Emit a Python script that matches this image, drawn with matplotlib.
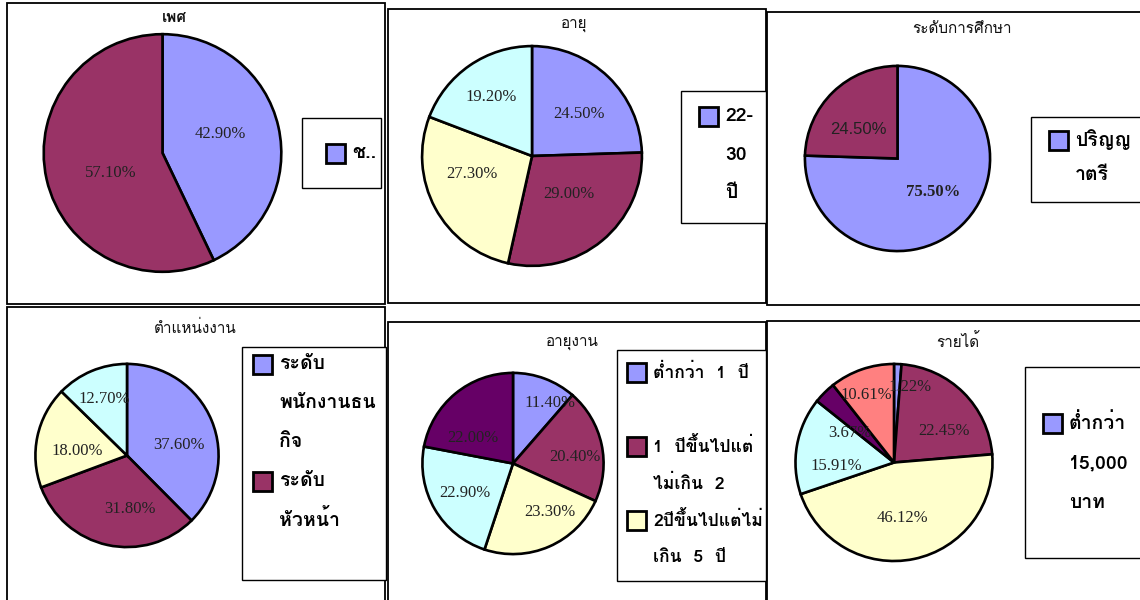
import matplotlib
matplotlib.use("Agg")
import numpy as np
import matplotlib.pyplot as plt
from matplotlib import font_manager
from matplotlib.patches import Rectangle

# ---------------- data ----------------
titles = ["เพศ", "อายุ", "ระดับการศึกษา", "ตำแหน่งงาน", "อายุงาน", "รายได้"]

sex_values = [42.90, 57.10]
age_values = [24.50, 29.00, 27.30, 19.20]
edu_values = [75.50, 24.50]
position_values = [37.60, 31.80, 18.00, 12.70]
tenure_values = [11.40, 20.40, 23.30, 22.90, 22.00]
income_values = [1.22, 22.45, 46.12, 15.91, 3.67, 10.61]

sex_legend = ["ช.."]
age_legend = ["22-\n30\nปี"]
edu_legend = ["ปริญญ\nาตรี"]
position_legend = ["ระดับ\nพนักงานธน\nกิจ", "ระดับ\nหัวหน้า"]
tenure_legend = ["ต่ำกว่า  1  ปี\n ", "1  ปีขึ้นไปแต่\nไม่เกิน  2", "2ปีขึ้นไปแต่ไม่\nเกิน  5  ปี"]
income_legend = ["ต่ำกว่า\n15,000\nบาท"]

slice_colors = ["#9999FF", "#993366", "#FFFFCC", "#CCFFFF", "#660066", "#FF8080"]

# ---------------- find a font with Thai glyphs ----------------
thai_fonts = []
try:
    from fontTools.ttLib import TTFont
    seen = set()
    for f in font_manager.fontManager.ttflist:
        if f.name in seen:
            continue
        try:
            tt = TTFont(f.fname, fontNumber=0, lazy=True)
            cmap = tt.getBestCmap()
            if cmap and 0x0E01 in cmap and 0x0E35 in cmap:
                thai_fonts.append(f.name)
                seen.add(f.name)
        except Exception:
            pass
except Exception:
    pass

preferred = [n for n in ["Loma", "Tahoma", "Noto Sans Thai"] if n in thai_fonts]
thai_family = (preferred[:1] or thai_fonts[:1]) + ["Liberation Sans", "DejaVu Sans"]

# ---------------- layout (pixels, origin top-left) ----------------
W, H = 1140, 600
panels = [
    dict(values=sex_values, legend=sex_legend, tw="bold",
         border=(7, 3, 385, 304), square=(42, 33, 283, 273), title=(174, 18),
         lbox=(302, 118, 381, 188), lx=335, ly=153, lsp=38, lfs=14,
         dist=[0.51, 0.47], dang=[5, 8],
         lfam=["Liberation Serif"] * 2, lwt=["normal"] * 2),
    dict(values=age_values, legend=age_legend, tw="normal",
         border=(388, 9, 766, 303), square=(421, 45, 643, 267), title=(574, 25),
         lbox=(681, 91, 766, 223), lx=708, ly=116, lsp=38.5, lfs=14,
         dist=[0.57, 0.48, 0.57, 0.65], dang=[-4, 4, -12, 0],
         lfam=["Liberation Serif"] * 4, lwt=["normal"] * 4),
    dict(values=edu_values, legend=edu_legend, tw="normal",
         border=(767, 12, 1141, 305), square=(803, 65, 992, 252), title=(962, 29),
         lbox=(1031, 117, 1141, 202), lx=1058, ly=140, lsp=35, lfs=14,
         dist=[0.53, 0.53], dang=[3, 9],
         lfam=["Liberation Serif", "Liberation Sans"], lwt=["bold", "normal"]),
    dict(values=position_values, legend=position_legend, tw="normal",
         border=(7, 307, 385, 601), square=(34, 363, 220, 548), title=(195, 328),
         lbox=(242, 347, 386, 580), lx=262, ly=364, lsp=39, lfs=14,
         dist=[0.58, 0.59, 0.54, 0.67], dang=[-11, 15, 7, -1],
         lfam=["Liberation Serif"] * 4, lwt=["normal"] * 4),
    dict(values=tenure_values, legend=tenure_legend, tw="normal",
         border=(388, 322, 766, 601), square=(421, 372, 605, 555), title=(572, 343),
         lbox=(617, 350, 766, 581), lx=636, ly=372, lsp=37, lfs=12.6,
         dist=[0.78, 0.69, 0.67, 0.62, 0.53], dang=[-11, -6, 14, 1, 18],
         lfam=["Liberation Serif"] * 5, lwt=["normal"] * 5),
    dict(values=income_values, legend=income_legend, tw="normal",
         border=(767, 321, 1141, 601), square=(794, 363, 994, 562), title=(958, 342),
         lbox=(1025, 367, 1141, 558), lx=1052, ly=423, lsp=40, lfs=14,
         dist=[0.78, 0.6, 0.57, 0.59, 0.54, 0.74], dang=[-10, -13, -3, 13, 11, 3],
         lfam=["Liberation Serif"] * 6, lwt=["normal"] * 6),
]

fig = plt.figure(figsize=(W / 100, H / 100), dpi=100)
fig.patch.set_facecolor("white")

ov = fig.add_axes([0, 0, 1, 1])
ov.set_xlim(0, W)
ov.set_ylim(H, 0)
ov.axis("off")

for p, title in zip(panels, titles):
    bx0, by0, bx1, by1 = p["border"]
    ov.add_patch(Rectangle((bx0, by0), bx1 - bx0, by1 - by0, fill=False,
                           edgecolor="black", lw=1.3))
    ov.text(p["title"][0], p["title"][1], title, ha="center", va="center",
            fontsize=11, fontweight=p["tw"], family=thai_family, color="#111111")

    # legend box
    lx0, ly0, lx1, ly1 = p["lbox"]
    ov.add_patch(Rectangle((lx0, ly0), lx1 - lx0, ly1 - ly0, facecolor="white",
                           edgecolor="black", lw=1.0))
    y = p["ly"]
    for i, lab in enumerate(p["legend"]):
        ov.add_patch(Rectangle((p["lx"] - 9.5, y - 9.5), 19, 19,
                               facecolor=slice_colors[i], edgecolor="black", lw=2.0))
        for line in lab.split("\n"):
            ov.text(p["lx"] + 17, y, line, ha="left", va="center", fontsize=p["lfs"],
                    fontweight="bold", family=thai_family, color="black")
            y += p["lsp"]

    # pie
    sx0, sy0, sx1, sy1 = p["square"]
    ax = fig.add_axes([sx0 / W, 1 - sy1 / H, (sx1 - sx0) / W, (sy1 - sy0) / H])
    vals = p["values"]
    wedges, _ = ax.pie(vals, colors=slice_colors[:len(vals)], startangle=90,
                       counterclock=False, radius=1.0,
                       wedgeprops=dict(edgecolor="black", linewidth=1.9))
    total = sum(vals)
    cum = 0.0
    for v, d, da, fam, wt in zip(vals, p["dist"], p["dang"], p["lfam"], p["lwt"]):
        mid = 90 - (cum + v / 2) / total * 360 + da
        cum += v
        ang = np.deg2rad(mid)
        ax.text(d * np.cos(ang), d * np.sin(ang), f"{v:.2f}%", ha="center", va="center",
                fontsize=12, family=fam, fontweight=wt, color="#222222")
    ax.set_xlim(-1.01, 1.01)
    ax.set_ylim(-1.01, 1.01)
    ax.set_facecolor("#C0C0C0")
    ax.set_xticks([])
    ax.set_yticks([])
    for s in ax.spines.values():
        s.set_edgecolor("#808080")
        s.set_linewidth(1.8)

fig.savefig("out.png", dpi=100, facecolor="white")
